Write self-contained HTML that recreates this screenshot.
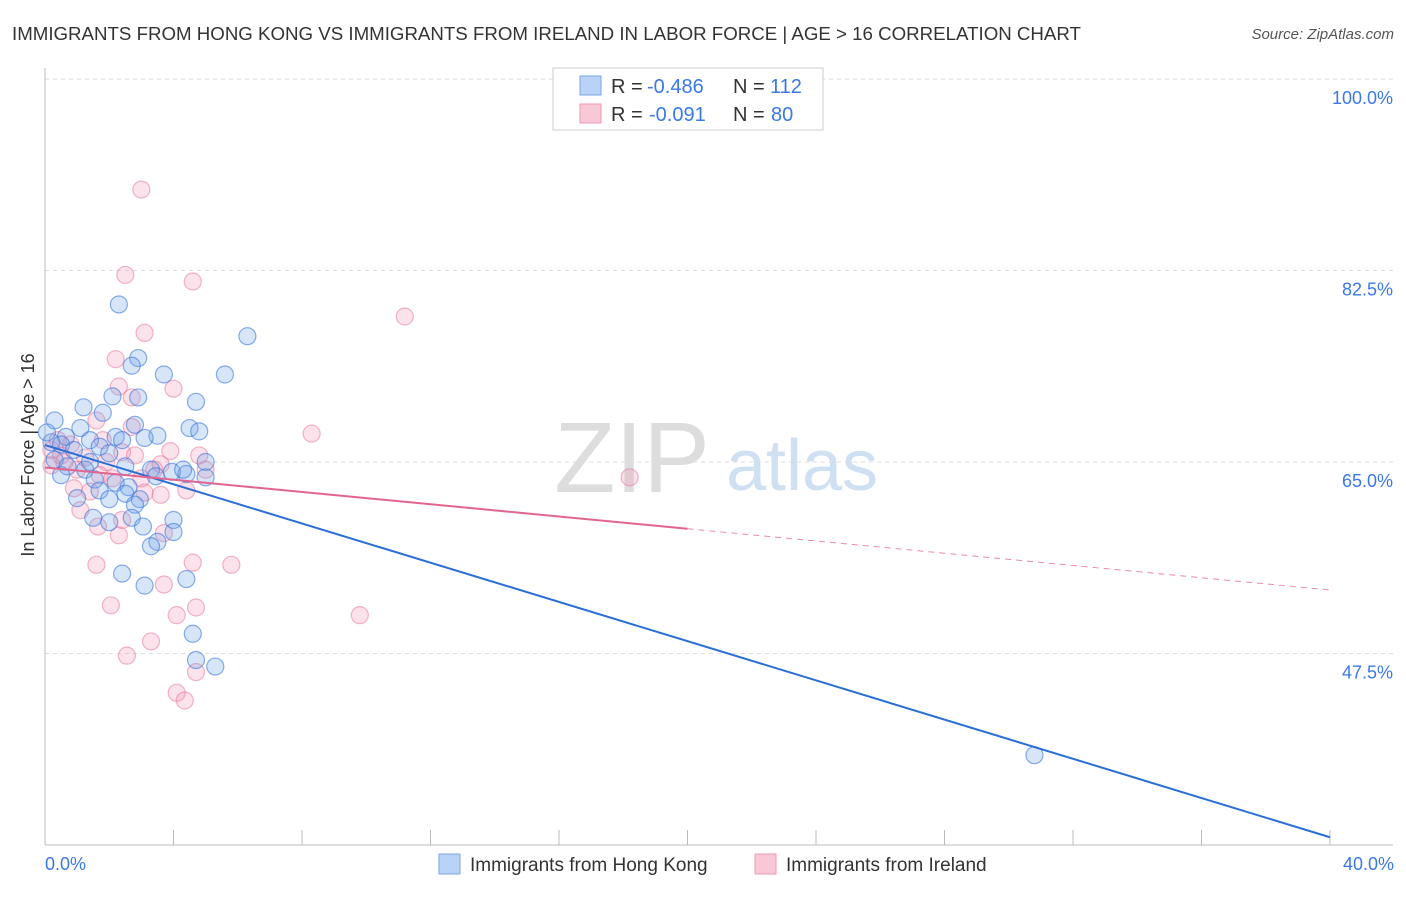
<!DOCTYPE html>
<html><head><meta charset="utf-8"><style>
body{margin:0;background:#fff;font-family:"Liberation Sans",sans-serif;}
svg text{font-family:"Liberation Sans",sans-serif;}
</style></head><body>
<svg id="chart" width="1406" height="892">
<text x="12" y="40" font-size="18.7" fill="#333">IMMIGRANTS FROM HONG KONG VS IMMIGRANTS FROM IRELAND IN LABOR FORCE | AGE &gt; 16 CORRELATION CHART</text>
<text x="1394" y="39" font-size="15" fill="#555" font-style="italic" text-anchor="end">Source: ZipAtlas.com</text>
<text x="632" y="492" font-size="100" fill="#ddd" font-family="Liberation Serif" text-anchor="middle">ZIP</text>
<text x="802" y="490" font-size="72" fill="#cfe0f3" text-anchor="middle">atlas</text>
<g id="grid"></g><g id="axes"></g><g id="pts"></g><g id="trend"></g>
<text transform="translate(34,455) rotate(-90)" font-size="18" fill="#333" text-anchor="middle">In Labor Force | Age &gt; 16</text>
<text x="45" y="870" font-size="18" fill="#3b78e7">0.0%</text>
<text x="1394" y="870" font-size="18" fill="#3b78e7" text-anchor="end">40.0%</text>
<g>
<rect x="553" y="68" width="270" height="62" fill="#fff" stroke="#ccc"/>
<rect x="580" y="76" width="21" height="19" fill="#b9d3f6" stroke="#7aa4e6"/>
<rect x="580" y="104" width="21" height="19" fill="#f9c8d7" stroke="#ee9ab5"/>
<text x="611" y="93" font-size="20" fill="#333">R =</text>
<text x="647" y="93" font-size="20" fill="#3b78e7">-0.486</text>
<text x="733" y="93" font-size="20" fill="#333">N =</text>
<text x="770" y="93" font-size="20" fill="#3b78e7">112</text>
<text x="611" y="121" font-size="20" fill="#333">R =</text>
<text x="649" y="121" font-size="20" fill="#3b78e7">-0.091</text>
<text x="733" y="121" font-size="20" fill="#333">N =</text>
<text x="771" y="121" font-size="20" fill="#3b78e7">80</text>
</g>
<g>
<rect x="439" y="854" width="21" height="20" fill="#b9d3f6" stroke="#7aa4e6"/>
<text x="470" y="871" font-size="19" fill="#333">Immigrants from Hong Kong</text>
<rect x="755" y="854" width="21" height="20" fill="#f9c8d7" stroke="#ee9ab5"/>
<text x="786" y="871" font-size="19" fill="#333">Immigrants from Ireland</text>
</g>
</svg>
<script>
const yTicks=[100,82.5,65,47.5];
const yTickLabels=["100.0%","82.5%","65.0%","47.5%"];
const xTicks=[0,4,8,12,16,20,24,28,32,36,40];
const blueX=[2.3,6.3,2.9,2.7,3.7,5.6,2.1,2.9,4.7,1.2,1.8,0.3,2.8,4.5,4.8,1.1,3.5,3.1,2.2,0.65,1.4,0.2,0.5,1.7,0.9,2.0,5.0,2.5,3.3,4.4,3.95,3.45,5.0,1.25,0.5,1.55,2.2,2.6,1.7,2.5,2.0,2.95,2.8,1.0,4.0,2.7,2.0,1.5,3.05,4.0,3.5,3.3,2.4,4.4,3.1,4.6,4.7,5.3,30.8,0.06,0.3,0.7,1.4,2.4,4.3];
const blueY=[79.4,76.5,74.5,73.8,73.0,73.0,71.0,70.9,70.5,70.0,69.5,68.8,68.4,68.1,67.8,68.1,67.4,67.2,67.3,67.3,67.0,66.8,66.6,66.4,66.1,65.8,65.0,64.6,64.3,63.9,64.1,63.7,63.6,64.3,63.8,63.4,63.1,62.7,62.4,62.1,61.6,61.6,61.1,61.7,59.7,59.9,59.5,59.9,59.1,58.6,57.7,57.3,54.8,54.3,53.7,49.3,46.9,46.3,38.2,67.7,65.2,64.6,65.0,67.0,64.3];
const pinkX=[3.0,2.5,4.6,11.2,3.1,2.2,2.3,4.0,2.7,1.6,8.3,2.7,3.9,4.8,18.2,0.2,0.5,0.8,1.25,1.9,2.4,0.2,1.0,1.7,2.1,3.0,3.4,3.6,5.0,0.9,1.4,3.1,3.6,4.4,1.1,1.65,2.3,2.4,3.7,1.6,4.6,5.8,3.7,2.05,4.7,4.1,9.8,3.3,2.55,4.7,4.1,4.35,0.4,0.6,1.8,2.8];
const pinkY=[89.9,82.1,81.5,78.3,76.8,74.4,71.9,71.7,70.9,68.8,67.6,68.2,66.0,65.6,63.6,66.1,65.6,66.6,65.4,65.0,65.9,64.7,64.3,63.8,63.5,63.5,64.3,64.8,64.3,62.6,62.3,62.2,62.0,62.4,60.6,59.1,58.3,59.7,58.5,55.6,55.8,55.6,53.8,51.9,51.7,51.0,51.0,48.6,47.3,45.8,43.9,43.2,67.0,65.0,67.0,65.6];
const blueTrend=[[0,66.55],[40,30.7]];
const pinkTrend=[[0,64.5],[20,58.9],[40,53.3]];
const ns="http://www.w3.org/2000/svg";
const X=v=>45+v/40*1285, Y=v=>462-(v-65)*10.94;
function mk(t,a,p){const e=document.createElementNS(ns,t);for(const k in a)e.setAttribute(k,a[k]);p.appendChild(e);return e;}
const grid=document.getElementById('grid'),axes=document.getElementById('axes'),pts=document.getElementById('pts'),tr=document.getElementById('trend');
yTicks.forEach((t,i)=>{
 const l=mk('line',{x1:45,x2:1393,y1:Y(t),y2:Y(t),stroke:'#ddd','stroke-dasharray':'4,4'},grid);
 
 
 const tx=mk('text',{x:1393,y:Y(t)+25,'font-size':18,fill:'#3b78e7','text-anchor':'end'},grid);
 tx.textContent=yTickLabels[i];
 
 
});
const ya=mk('line',{x1:45,x2:45,y1:68,y2:845,stroke:'#bbb'},axes);


const xa=mk('line',{x1:45,x2:1393,y1:845,y2:845,stroke:'#bbb'},axes);


xTicks.forEach(t=>{
 const l=mk('line',{x1:X(t),x2:X(t),y1:830,y2:845,stroke:'#bbb'},axes);
 
 
});
pinkX.forEach((x,i)=>{
 const c=mk('circle',{cx:X(x),cy:Y(pinkY[i]),r:8.5,fill:'rgba(244,150,180,0.28)',stroke:'rgba(232,120,160,0.55)','stroke-width':1.2},pts);
 
 
});
blueX.forEach((x,i)=>{
 const c=mk('circle',{cx:X(x),cy:Y(blueY[i]),r:8.5,fill:'rgba(110,160,230,0.28)',stroke:'rgba(60,120,220,0.6)','stroke-width':1.2},pts);
 
 
});
const bl=mk('line',{x1:X(blueTrend[0][0]),y1:Y(blueTrend[0][1]),x2:X(blueTrend[1][0]),y2:Y(blueTrend[1][1]),stroke:'#2a6fd6','stroke-width':2},tr);


const pl=mk('line',{x1:X(pinkTrend[0][0]),y1:Y(pinkTrend[0][1]),x2:X(pinkTrend[1][0]),y2:Y(pinkTrend[1][1]),stroke:'#e2648f','stroke-width':2},tr);


const pd=mk('line',{x1:X(pinkTrend[1][0]),y1:Y(pinkTrend[1][1]),x2:X(pinkTrend[2][0]),y2:Y(pinkTrend[2][1]),stroke:'#e88aa9','stroke-width':1,'stroke-dasharray':'6,5'},tr);


</script>
</body></html>
